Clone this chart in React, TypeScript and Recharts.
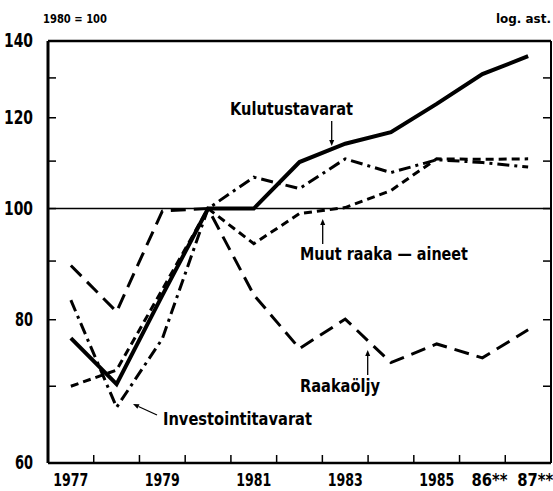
import React from "react";
import { LineChart, Line, XAxis, YAxis, ReferenceLine } from "recharts";

const years = [1977, 1978, 1979, 1980, 1981, 1982, 1983, 1984, 1985, 1986, 1987];
const kulutustavarat = [77.1, 70.3, 84, 100, 100, 109.8, 113.9, 116.6, 123.4, 131.0, 135.8];
const investointitavarat = [83.2, 67.1, 77, 100, 106.5, 104.1, 110.5, 107.5, 110.3, 109.7, 108.7];
const raakaoljy = [89.2, 81.3, 99.5, 100, 84.1, 75.5, 80.1, 73.4, 76.2, 74.1, 78.4];
const muutRaakaAineet = [70.0, 72.3, 85, 100, 93.2, 99, 100.2, 103.7, 110.5, 110.4, 110.5];

const yTicks = [60, 70, 80, 90, 100, 110, 120, 130, 140];
const yLabelled = [60, 80, 100, 120, 140];
const xLabelYears = [1977, 1979, 1981, 1983, 1985, 1986, 1987];
const xLabels = ["1977", "1979", "1981", "1983", "1985", "86**", "87**"];

const data = years.map((year, i) => ({
  year,
  kulutus: kulutustavarat[i],
  investointi: investointitavarat[i],
  raakaoljy: raakaoljy[i],
  muut: muutRaakaAineet[i],
}));

// labels at years, small marks at the year boundaries
const xTicks = [...xLabelYears, ...years.slice(1).map((y) => y - 0.5)].sort((a, b) => a - b);

const FONT = "'Liberation Sans Narrow', 'DejaVu Sans Condensed', 'DejaVu Sans', sans-serif";
const INK = "#000";

function XTick({ x, y, payload }: any) {
  const v = payload.value;
  if (!Number.isInteger(v)) {
    return <line x1={x} x2={x} y1={y} y2={y - 8} stroke={INK} strokeWidth={1.5} />;
  }
  const i = xLabelYears.indexOf(v);
  if (i < 0) return null;
  const starred = xLabels[i].includes("*");
  return (
    <text
      x={starred ? x - 11 : x}
      y={y + 23}
      textAnchor={starred ? "start" : "middle"}
      textLength={starred ? 36 : 35}
      lengthAdjust="spacingAndGlyphs"
      fontFamily={FONT}
      fontWeight="bold"
      fontSize={17}
      fill={INK}
    >
      {xLabels[i]}
    </text>
  );
}

function LeftTick({ x, y, payload }: any) {
  const v = payload.value;
  return (
    <g>
      <line x1={x} x2={x + 8} y1={y} y2={y} stroke={INK} strokeWidth={1.5} />
      {yLabelled.includes(v) && (
        <text
          x={x - 15}
          y={y + 6}
          textAnchor="end"
          textLength={v >= 100 ? 29 : 18}
          lengthAdjust="spacingAndGlyphs"
          fontFamily={FONT}
          fontWeight="bold"
          fontSize={20}
          fill={INK}
        >
          {v}
        </text>
      )}
    </g>
  );
}

function RightTick({ x, y }: any) {
  return <line x1={x} x2={x - 8} y1={y} y2={y} stroke={INK} strokeWidth={1.5} />;
}

function Arrow({ x1, y1, x2, y2 }: { x1: number; y1: number; x2: number; y2: number }) {
  const a = Math.atan2(y2 - y1, x2 - x1);
  const len = 6;
  const w = 2.5;
  const bx = x2 - len * Math.cos(a);
  const by = y2 - len * Math.sin(a);
  const px = -Math.sin(a) * w;
  const py = Math.cos(a) * w;
  return (
    <g>
      <line x1={x1} y1={y1} x2={bx} y2={by} stroke={INK} strokeWidth={1.3} />
      <polygon points={`${x2},${y2} ${bx + px},${by + py} ${bx - px},${by - py}`} fill={INK} />
    </g>
  );
}

const label = { fontFamily: FONT, fontWeight: "bold" as const, fill: INK };

export default function App() {
  return (
    <div style={{ position: "absolute", left: 0, top: 0, width: 553, height: 491, background: "#fff" }}>
      <LineChart width={553} height={491} data={data} margin={{ top: 41, right: 0, bottom: 0, left: 0 }}>
        <XAxis
          dataKey="year"
          type="number"
          domain={[1976.5, 1987.5]}
          ticks={xTicks}
          interval={0}
          tickSize={0}
          tickMargin={0}
          tickLine={false}
          height={28}
          axisLine={{ stroke: INK, strokeWidth: 2.5 }}
          tick={<XTick />}
        />
        <YAxis
          yAxisId="l"
          scale="log"
          type="number"
          domain={[60, 140]}
          allowDataOverflow
          ticks={yTicks}
          interval={0}
          tickSize={0}
          tickMargin={0}
          tickLine={false}
          width={48}
          axisLine={{ stroke: INK, strokeWidth: 3 }}
          tick={<LeftTick />}
        />
        <YAxis
          yAxisId="r"
          orientation="right"
          scale="log"
          type="number"
          domain={[60, 140]}
          allowDataOverflow
          ticks={yTicks}
          interval={0}
          tickSize={0}
          tickMargin={0}
          tickLine={false}
          width={2}
          axisLine={{ stroke: INK, strokeWidth: 2 }}
          tick={<RightTick />}
        />
        <ReferenceLine yAxisId="l" y={140} stroke={INK} strokeWidth={2.5} />
        <ReferenceLine yAxisId="l" y={100} stroke={INK} strokeWidth={1.5} />
        <Line yAxisId="l" type="linear" dataKey="raakaoljy" stroke={INK} strokeWidth={3} strokeDasharray="15 8" dot={false} isAnimationActive={false} />
        <Line yAxisId="l" type="linear" dataKey="muut" stroke={INK} strokeWidth={3} strokeDasharray="8 5" dot={false} isAnimationActive={false} />
        <Line yAxisId="l" type="linear" dataKey="investointi" stroke={INK} strokeWidth={3} strokeDasharray="12 5 3 5" dot={false} isAnimationActive={false} />
        <Line yAxisId="l" type="linear" dataKey="kulutus" stroke={INK} strokeWidth={4} dot={false} isAnimationActive={false} />
      </LineChart>
      <svg width={553} height={491} style={{ position: "absolute", left: 0, top: 0, pointerEvents: "none" }}>
        <text x={43} y={22.7} fontSize={12.5} textLength={64} lengthAdjust="spacingAndGlyphs" {...label}>1980 = 100</text>
        <text x={496} y={22.7} fontSize={12.5} textLength={55} lengthAdjust="spacingAndGlyphs" {...label}>log.  ast.</text>
        <text x={230} y={115} fontSize={17} textLength={123} lengthAdjust="spacingAndGlyphs" {...label}>Kulutustavarat</text>
        <Arrow x1={331.7} y1={121} x2={331.7} y2={146} />
        <text x={300} y={260} fontSize={17} textLength={168} lengthAdjust="spacingAndGlyphs" {...label}>Muut  raaka — aineet</text>
        <Arrow x1={322.7} y1={244} x2={322.7} y2={219} />
        <text x={300} y={392} fontSize={17} textLength={80} lengthAdjust="spacingAndGlyphs" {...label}>Raakaöljy</text>
        <Arrow x1={367.7} y1={375} x2={367.7} y2={350} />
        <text x={163} y={425} fontSize={17} textLength={149} lengthAdjust="spacingAndGlyphs" {...label}>Investointitavarat</text>
        <Arrow x1={157} y1={415} x2={133} y2={404} />
      </svg>
    </div>
  );
}
